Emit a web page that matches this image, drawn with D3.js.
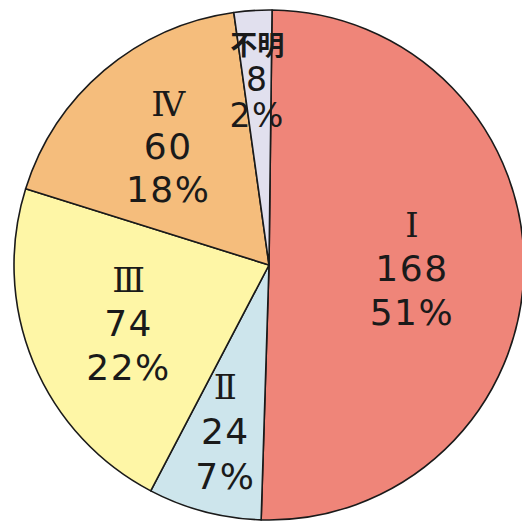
<!DOCTYPE html>
<html><head><meta charset="utf-8">
<script src="https://cdn.jsdelivr.net/npm/d3@7"></script>
<style>html,body{margin:0;padding:0;background:#fff;}svg{display:block;}</style>
</head><body>
<svg id="chart" width="522" height="530"></svg>
<script>
const categories = ["Ⅰ", "Ⅱ", "Ⅲ", "Ⅳ", "不明"];
const counts = [168, 24, 74, 60, 8];
const percentLabels = ["51%", "7%", "22%", "18%", "2%"];
const colors = ["#EF8579", "#CDE5EC", "#FEF6A6", "#F5BD7C", "#E1E0EE"];

// layout
const W = 522, H = 530, cx = 269, cy = 265, R = 255;
const rot = 0.012;
// per-slice label placement (radius, line spacing, font sizes)
const labelLayout = [
  {r: 143, gap: 44, f: 36, fr: 34},
  {r: 172, gap: 45, f: 36, fr: 34},
  {r: 152, gap: 44, f: 36, fr: 34},
  {r: 156, gap: 43, f: 36, fr: 34},
  {r: 186, gap: 36, f: 33, fr: 27}
];

const svg = d3.select("#chart");
const g = svg.append("g").attr("transform", `translate(${cx},${cy})`);

const pie = d3.pie().sort(null).value(d => d.v).startAngle(rot).endAngle(2*Math.PI + rot);
const data = categories.map((c, i) => ({c, v: counts[i], p: percentLabels[i], i}));
const arcs = pie(data);
const arc = d3.arc().innerRadius(0).outerRadius(R);

g.selectAll("path.slice").data(arcs).enter().append("path")
  .attr("class", "slice")
  .attr("d", arc)
  .attr("fill", (d, i) => colors[i])
  .attr("stroke", "#1a1a1a")
  .attr("stroke-width", 1.6)
  .attr("stroke-linejoin", "round");

arcs.forEach((d, i) => {
  const L = labelLayout[i];
  const a = (d.startAngle + d.endAngle) / 2;
  const x = L.r * Math.sin(a);
  const y = -L.r * Math.cos(a);
  const t = g.append("g").attr("transform", `translate(${x},${y})`);
  const isCJK = d.data.c === "不明";
  t.append("text")
    .attr("x", 0).attr("y", -L.gap + L.f * 0.36)
    .attr("text-anchor", "middle")
    .attr("font-family", isCJK ? "'Noto Sans CJK JP', sans-serif" : "'DejaVu Serif', 'Liberation Serif', serif")
    .attr("font-weight", isCJK ? 700 : 400)
    .attr("font-size", L.fr)
    .attr("fill", "#1a1a1a")
    .text(d.data.c);
  t.append("text")
    .attr("x", 0).attr("y", L.f * 0.36)
    .attr("text-anchor", "middle")
    .attr("font-family", "'DejaVu Sans', sans-serif")
    .attr("font-size", L.f)
    .attr("letter-spacing", 1.5)
    .attr("fill", "#1a1a1a")
    .text(d.data.v);
  t.append("text")
    .attr("x", 0).attr("y", L.gap + L.f * 0.36)
    .attr("text-anchor", "middle")
    .attr("font-family", "'DejaVu Sans', sans-serif")
    .attr("font-size", L.f)
    .attr("letter-spacing", 1.5)
    .attr("fill", "#1a1a1a")
    .text(d.data.p);
});
</script>
</body></html>
